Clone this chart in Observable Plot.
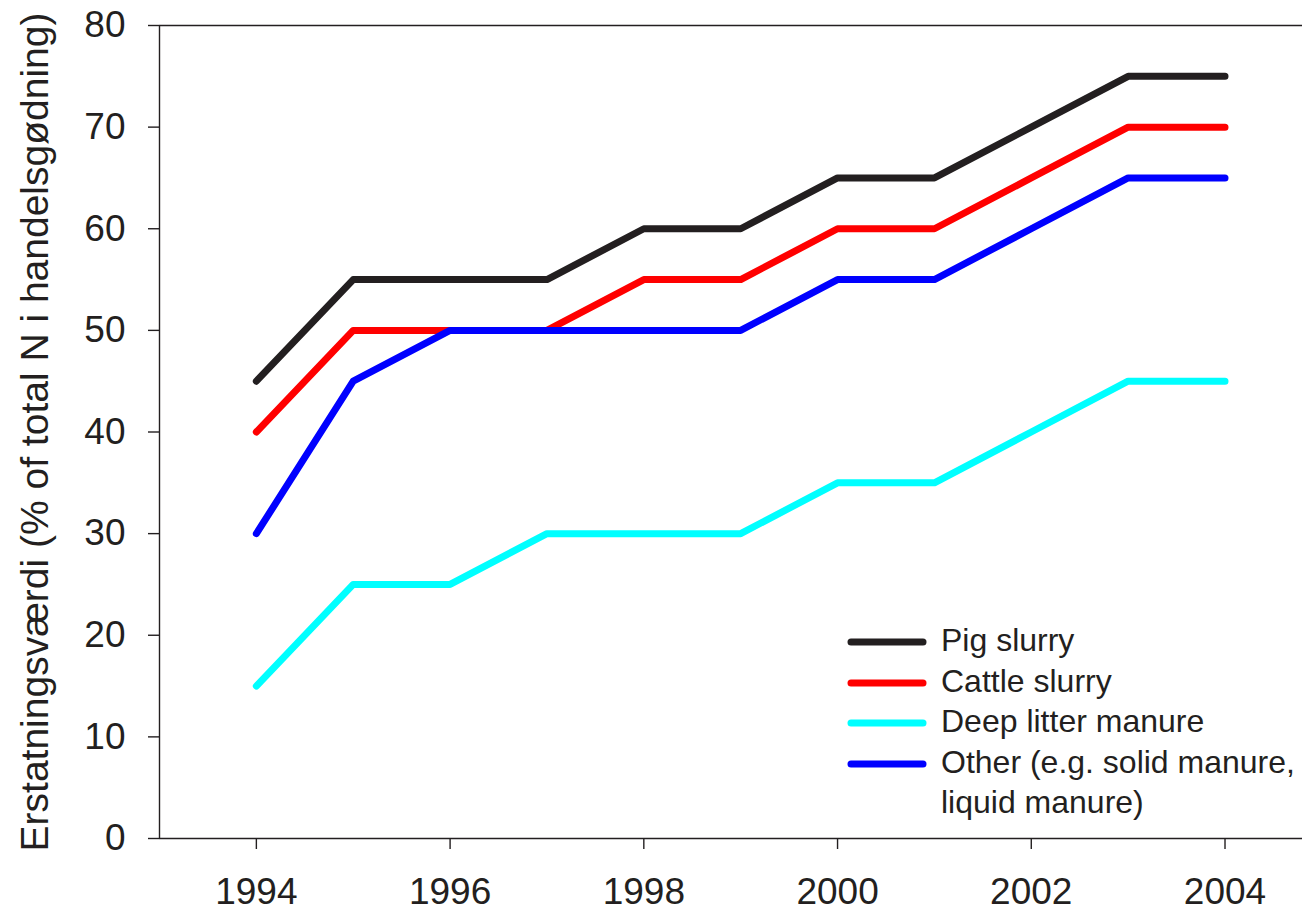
<!DOCTYPE html>
<html>
<head>
<meta charset="utf-8">
<script src="https://cdn.jsdelivr.net/npm/d3@7"></script>
<script src="https://cdn.jsdelivr.net/npm/@observablehq/plot@0.6"></script>
<style>
  html, body { margin: 0; padding: 0; background: #ffffff; }
  #wrap { position: relative; width: 1302px; height: 911px; font-family: "Liberation Sans", Arial, sans-serif; color: #231f20; }
  #legend { position: absolute; left: 847px; top: 620px; font-size: 32px; line-height: 40.5px; }
  #legend .row { display: flex; align-items: flex-start; }
  #legend svg { flex: none; margin-top: 2px; }
  #legend span { margin-left: 14px; }
</style>
</head>
<body>
<div id="wrap"><div id="legend"></div></div>
<script>
const years = [1994, 1995, 1996, 1997, 1998, 1999, 2000, 2001, 2002, 2003, 2004];
const pigSlurry = [45, 55, 55, 55, 60, 60, 65, 65, 70, 75, 75];
const cattleSlurry = [40, 50, 50, 50, 55, 55, 60, 60, 65, 70, 70];
const deepLitter = [15, 25, 25, 30, 30, 30, 35, 35, 40, 45, 45];
const other = [30, 45, 50, 50, 50, 50, 55, 55, 60, 65, 65];

const seriesNames = ["Pig slurry", "Cattle slurry", "Deep litter manure", "Other (e.g. solid manure, liquid manure)"];
const legendLines = [["Pig slurry"], ["Cattle slurry"], ["Deep litter manure"], ["Other (e.g. solid manure,", "liquid manure)"]];
const seriesColors = ["#231f20", "#ff0000", "#00ffff", "#0000ff"];
const seriesValues = [pigSlurry, cattleSlurry, deepLitter, other];

const xTicks = [1994, 1996, 1998, 2000, 2002, 2004];
const yTicks = [0, 10, 20, 30, 40, 50, 60, 70, 80];
const yLabel = "Erstatningsværdi (% of total N i handelsgødning)";

const data = [];
seriesNames.forEach((name, i) => {
  years.forEach((yr, j) => data.push({series: name, year: yr, value: seriesValues[i][j]}));
});

const ink = "#231f20";
const chart = Plot.plot({
  width: 1302,
  height: 911,
  marginLeft: 159,
  marginRight: 0,
  marginTop: 25,
  marginBottom: 73,
  style: {fontFamily: "'Liberation Sans', Arial, sans-serif", color: ink, background: "#ffffff"},
  x: {domain: [1993, 2004.8]},
  y: {domain: [0, 80]},
  color: {domain: seriesNames, range: seriesColors},
  marks: [
    Plot.ruleY([0, 80], {stroke: ink, strokeWidth: 1.4}),
    Plot.ruleX([1993], {stroke: ink, strokeWidth: 1.4}),
    Plot.axisX({ticks: xTicks, tickFormat: d => String(d), tickSize: 11, tickPadding: 28, fontSize: 37, strokeWidth: 1.4, stroke: ink, fill: ink, label: null}),
    Plot.axisY({ticks: yTicks, tickSize: 11, tickPadding: 23, fontSize: 37, strokeWidth: 1.4, stroke: ink, fill: ink, label: yLabel, labelAnchor: "center", labelOffset: 139, labelArrow: "none"}),
    Plot.line(data, {x: "year", y: "value", z: "series", stroke: "series", strokeWidth: 7, strokeLinecap: "round", strokeLinejoin: "round"})
  ]
});
const wrap = document.getElementById("wrap");
wrap.insertBefore(chart, wrap.firstChild);

// label font size slightly larger than tick labels
chart.querySelectorAll("g[aria-label='y-axis label'] text").forEach(t => t.setAttribute("font-size", "39"));

const legend = document.getElementById("legend");
seriesNames.forEach((name, i) => {
  const row = document.createElement("div");
  row.className = "row";
  row.innerHTML = `<svg width="80" height="36"><line x1="4" x2="76" y1="20" y2="20" stroke="${seriesColors[i]}" stroke-width="7" stroke-linecap="round"/></svg><span>${legendLines[i].join("<br>")}</span>`;
  legend.appendChild(row);
});
</script>
</body>
</html>
